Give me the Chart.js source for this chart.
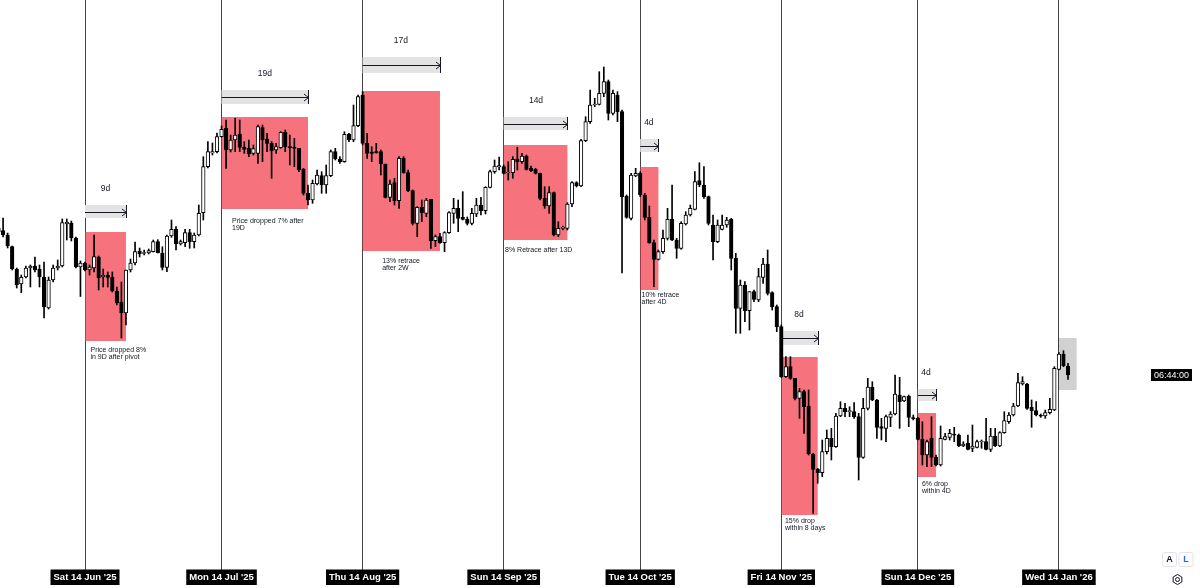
<!DOCTYPE html>
<html>
<head>
<meta charset="utf-8">
<title>Pivot retrace chart</title>
<script src="https://cdn.jsdelivr.net/npm/chart.js@4.4.1/dist/chart.umd.min.js"></script>
<style>
  html, body { margin: 0; padding: 0; background: #fff; }
  #box { width: 1200px; height: 588px; position: relative; }
</style>
</head>
<body>
<div id="box"><canvas id="priceChart"></canvas></div>
<script>

// ==========================
// Daily candles (day 0 = Sat 14 Jun 2025)
// ==========================

const firstDay = -19;

const opens = [
    109200,108930,108500,107330,105100,103600,104300,105200,105400,105100,
    104300,101200,104000,105200,105400,109600,109700,108200,105300,105700,
    105000,105200,106300,104300,104500,104300,102900,101800,100700,105000,
    105700,106900,106650,106700,106830,107830,106700,105270,108400,109070,
    107600,107730,108730,107830,108500,110730,115330,116700,116830,118330,
    119170,117000,118000,118600,117270,117170,116650,116670,119230,118100,
    117670,117000,117230,118770,117330,117300,117170,115100,112670,112000,
    113600,114430,113500,114430,116830,116100,115830,118570,118000,119430,
    122500,117670,116800,116770,116830,115600,112270,113730,111930,116170,
    114730,112930,109670,111270,110670,112070,107930,108330,107730,108730,
    110670,111170,110270,110070,109670,110600,111500,110930,113270,114830,
    115300,115330,114700,114730,116070,115830,116400,115170,115070,114670,
    112170,111400,112730,108500,109170,109170,111600,113730,113400,117930,
    119830,121500,121570,122670,123830,120670,122500,120830,112400,110170,
    114400,114670,112500,110270,107730,106070,106830,108170,110070,108000,
    107170,109600,110500,111070,113930,113500,112330,109500,107830,109070,
    109500,110070,106170,101170,103500,100930,102830,102000,104270,105600,
    102730,101330,99330,94330,95330,94170,92170,92830,91400,86600,
    85070,84730,86830,88170,87330,90400,91170,90830,90830,90330,
    86270,91170,93270,92000,89330,89170,90270,90600,92500,91900,
    92400,90200,90170,88070,86500,88170,86270,85500,88070,88270,
    88500,88500,87400,87670,87170,87270,87800,87830,87070,88400,
    87400,88730,89830,90500,91400,93600,93600,91270,90930,90400,
    90400,90730,91000,95070,96600,95400
];

const highs = [
    109500,110200,108700,107400,105200,104500,105400,105500,106300,105500,
    105800,104300,105500,106000,110100,110100,109900,108300,105900,105800,
    105500,108500,106400,105100,104800,104800,103300,103800,105000,106100,
    107800,107200,107000,107100,108000,108030,107330,108500,110000,109330,
    108000,109070,109070,108700,111500,116330,117830,117700,118700,119400,
    120000,118500,120170,120000,117830,118000,117500,119500,119500,118670,
    117830,117670,118830,119000,118500,118170,117170,115170,113500,114000,
    115000,114830,115500,117000,117170,116330,118830,118670,121500,122500,
    122830,118670,117330,117670,117000,115600,114000,114170,116330,116330,
    115000,113000,111330,112000,112170,112070,108500,108670,108830,110830,
    112170,112000,112830,110300,111170,112170,112270,113330,115000,116000,
    116300,115500,115830,116330,117270,116670,116500,115400,115170,114700,
    113330,113330,112800,109830,109400,111730,113830,113830,118070,120330,
    123000,122170,124830,125300,124000,123000,122830,121000,112500,114670,
    115170,114830,112670,111400,108000,107000,109000,111170,113500,108170,
    109830,110830,111500,114830,115730,115330,112400,110500,110000,110500,
    110270,110170,106670,104000,103830,102830,103000,105170,106170,107000,
    102830,101500,99500,96330,96330,94170,93170,93000,93000,86670,
    85170,88000,89000,89170,90670,91830,91670,91330,91730,90670,
    92170,94170,93830,92070,90170,90500,90830,94500,94270,92400,
    92500,90500,90270,89830,88000,90330,86500,89400,88670,89070,
    89270,88600,87830,88500,89500,88000,88000,90170,89170,89170,
    88830,90830,90730,91670,94670,94330,93670,92000,91830,90600,
    91000,92170,95330,96730,96930,95670
];

const lows = [
    108600,108300,107200,105000,103200,102730,104200,103300,104800,103300,
    100200,101100,103800,105000,105300,108000,107900,105200,102350,104900,
    104500,104800,103000,103300,103300,102800,101500,98200,99500,104800,
    105500,106300,106500,106600,106800,106700,105000,104830,108270,107000,
    107500,107330,107170,107200,108400,110000,115200,116500,116700,118300,
    115170,116800,116830,116830,116670,116330,116500,115670,115830,116830,
    114170,116670,117170,116830,115500,115330,114830,112500,111500,111670,
    113500,112670,112670,114330,116000,115670,115770,117830,117830,119330,
    117500,116170,115830,116670,114500,112200,111830,111500,111170,114670,
    112830,109500,108330,109830,110330,107170,107330,107670,106830,108670,
    109670,108830,110000,109500,109500,110330,110500,110600,113200,114670,
    115000,114600,114000,114170,115000,115670,115000,114830,114600,112000,
    111170,110670,108400,108330,109000,109000,111330,113300,113330,117830,
    119670,121330,121500,122330,120000,120500,119830,104700,110170,110000,
    114330,112330,110000,107670,103330,106000,106670,108000,107930,106170,
    107070,109500,110400,111000,113330,112170,109500,106000,107730,109000,
    109270,105000,98670,98670,99830,99000,101830,101830,103670,102500,
    101000,98830,94250,94270,94070,92000,90170,88670,86500,80670,
    83670,84330,86600,86000,87270,90330,90330,90330,90170,84000,
    86170,91000,91930,88170,88000,87830,89330,90500,89170,91830,
    89330,90000,88000,85500,85330,85330,85400,85400,88000,88000,
    87830,87330,87330,87000,86830,87200,87170,87000,86830,87330,
    87330,88670,89670,90400,91330,93500,91070,89270,90400,90270,
    90170,90600,90930,95000,95330,94070
];

const closes = [
    108800,108500,107400,105100,103500,104270,105200,105400,105000,104300,
    101300,104000,105200,105400,109730,109800,108200,105300,105700,105000,
    105300,106330,104200,104500,104250,102900,101700,100700,105000,105700,
    106830,106600,106700,106930,107830,106730,105270,108400,109070,107600,
    107830,108730,107830,108500,110670,115330,116830,116830,118330,119070,
    117000,118000,118500,117270,117070,116600,117150,119330,118000,117670,
    116900,117330,118770,117330,117230,117170,115000,112670,112000,113670,
    114500,113500,114430,116830,116100,115830,118570,118000,119430,122330,
    117670,116670,116670,116730,115600,112270,113600,111930,116170,114730,
    112930,109670,111270,110730,112000,107930,108330,107730,108730,110730,
    111170,110170,110070,109670,110670,111500,110930,113270,114830,115400,
    115450,114670,114730,116070,115830,116400,115070,114930,114670,112170,
    111400,112730,108500,109170,109200,111600,113730,113400,117930,119830,
    121500,121600,122670,123830,120670,122670,120830,112330,110270,114500,
    114670,112500,110270,107730,106070,106830,108170,110070,108000,107170,
    109670,110500,111170,113830,113500,112330,109670,107830,109500,109500,
    110000,106170,101170,103500,100930,102830,102070,104330,105600,102670,
    101330,99330,94330,95330,94170,92170,92830,91330,86600,85070,
    84730,86830,88170,87330,90400,91170,90830,90850,90330,86270,
    91170,93300,92000,89270,89170,90330,90600,92600,91830,92330,
    90270,90130,88070,86500,87830,86270,85500,88170,88330,88670,
    88480,87400,87600,87070,87400,87830,87830,87070,88400,87400,
    88730,89930,90500,91400,93730,93830,91170,90930,90500,90380,
    90730,91070,95170,96600,95400,94500
];

// date ticks (days after 14 Jun 2025)
const tickDays = [0, 30, 61, 92, 122, 153, 183, 214];

// ==========================
// Drawn annotations (day / price units)
// ==========================

const moves = [
    { from: 0,   to: 9,   top: 108800, bottom: 97900,  barTop: 111500, barBottom: 110200, label: "9d",  labelAt: [4.5, 113100],   note: ["Price dropped 8%", "in 9D after pivot"], noteAt: [1.2, 97000] },
    { from: 30,  to: 49,  top: 120300, bottom: 111100, barTop: 123000, barBottom: 121600, label: "19d", labelAt: [39.5, 124600],  note: ["Price dropped 7% after", "19D"],        noteAt: [32.3, 109900] },
    { from: 61,  to: 78,  top: 122900, bottom: 106900, barTop: 126300, barBottom: 124700, label: "17d", labelAt: [69.4, 127900],  note: ["13% retrace", "after 2W"],              noteAt: [65.3, 105900] },
    { from: 92,  to: 106, top: 117500, bottom: 108000, barTop: 120300, barBottom: 119000, label: "14d", labelAt: [99.1, 121900],  note: ["8% Retrace after 13D"],                 noteAt: [92.3, 107000] },
    { from: 122, to: 126, top: 115300, bottom: 103000, barTop: 118100, barBottom: 116800, label: "4d",  labelAt: [123.9, 119700], note: ["10% retrace", "after 4D"],              noteAt: [122.3, 102500] },
    { from: 153, to: 161, top: 96300,  bottom: 80500,  barTop: 98900,  barBottom: 97500,  label: "8d",  labelAt: [156.9, 100500], note: ["15% drop", "within 8 days"],            noteAt: [153.8, 79900] },
    { from: 183, to: 187, top: 90700,  bottom: 84300,  barTop: 93100,  barBottom: 91900,  label: "4d",  labelAt: [184.8, 94700],  note: ["6% drop", "within 4D"],                 noteAt: [183.9, 83600] }
];

const lastBarBox = { from: 213.9, to: 217.9, top: 98200, bottom: 93000 };

const pxPerDay = 4.551;
const firstTickPx = 85;

// ==========================
// Helpers
// ==========================

const dayNames = ["Sun","Mon","Tue","Wed","Thu","Fri","Sat"];
const monNames = ["Jan","Feb","Mar","Apr","May","Jun","Jul","Aug","Sep","Oct","Nov","Dec"];

function dayLabel(d){
    const t = new Date(Date.UTC(2025, 5, 14) + d * 86400000);
    const yy = String(t.getUTCFullYear()).slice(2);
    return dayNames[t.getUTCDay()] + " " + t.getUTCDate() + " " + monNames[t.getUTCMonth()] + " '" + yy;
}

const days = opens.map((_, i) => firstDay + i);

const wickData = days.map((d, i) => ({ x: d, y: [lows[i], highs[i]] }));
const bodyData = days.map((d, i) => ({ x: d, y: [opens[i], closes[i]] }));
const bodyColors = days.map((_, i) => closes[i] >= opens[i] ? "#ffffff" : "#000000");

// ==========================
// Overlay plugin
// ==========================

const overlay = {

    id: "overlay",

    beforeDatasetsDraw(chart){

        const { ctx, scales: { x, y } } = chart;

        ctx.save();

        // highlight behind the last bars
        const hx1 = x.getPixelForValue(lastBarBox.from);
        const hx2 = x.getPixelForValue(lastBarBox.to);
        const hy1 = y.getPixelForValue(lastBarBox.top);
        const hy2 = y.getPixelForValue(lastBarBox.bottom);
        ctx.fillStyle = "rgba(0,0,0,0.18)";
        ctx.fillRect(hx1, hy1, hx2 - hx1, hy2 - hy1);

        moves.forEach(m => {

            const x1 = x.getPixelForValue(m.from);
            const x2 = x.getPixelForValue(m.to);

            // red retrace box
            const ry1 = y.getPixelForValue(m.top);
            const ry2 = y.getPixelForValue(m.bottom);
            ctx.fillStyle = "rgba(242,54,69,0.7)";
            ctx.fillRect(x1, ry1, x2 - x1, ry2 - ry1);

            // date range bar
            const b1 = y.getPixelForValue(m.barTop);
            const b2 = y.getPixelForValue(m.barBottom);
            ctx.fillStyle = "#e3e3e3";
            ctx.fillRect(x1, b1, x2 - x1, b2 - b1);

            const cy = Math.round((b1 + b2) / 2) + 0.5;
            const xr = Math.round(x2) + 0.5;
            ctx.strokeStyle = "#131722";
            ctx.lineWidth = 1;
            ctx.beginPath();
            ctx.moveTo(x1, cy);
            ctx.lineTo(xr, cy);
            ctx.moveTo(xr - 4.5, cy - 3.5);
            ctx.lineTo(xr, cy);
            ctx.lineTo(xr - 4.5, cy + 3.5);
            ctx.moveTo(xr, b1);
            ctx.lineTo(xr, b2);
            ctx.stroke();

        });

        ctx.restore();

    },

    afterDatasetsDraw(chart){

        const { ctx, scales: { x, y } } = chart;

        ctx.save();
        ctx.fillStyle = "#131722";
        ctx.textBaseline = "middle";

        moves.forEach(m => {

            ctx.font = "8.5px 'Liberation Sans', Arial, sans-serif";
            ctx.textAlign = "center";
            ctx.fillText(m.label, x.getPixelForValue(m.labelAt[0]), y.getPixelForValue(m.labelAt[1]));

            ctx.font = "7px 'Liberation Sans', Arial, sans-serif";
            ctx.textAlign = "left";
            const nx = x.getPixelForValue(m.noteAt[0]);
            const ny = y.getPixelForValue(m.noteAt[1]);
            m.note.forEach((line, k) => ctx.fillText(line, nx, ny + k * 7.3));

        });

        ctx.restore();

    },

    afterDraw(chart){

        const { ctx, scales: { y } } = chart;
        const W = chart.width;
        const H = chart.height;

        ctx.save();

        // countdown badge at last close
        const by = Math.round(y.getPixelForValue(closes[closes.length - 1]));
        ctx.fillStyle = "#000";
        ctx.fillRect(W - 49, by - 6, 41, 12);
        ctx.fillStyle = "#fff";
        ctx.font = "9px 'Liberation Sans', Arial, sans-serif";
        ctx.textAlign = "center";
        ctx.textBaseline = "middle";
        ctx.fillText("06:44:00", W - 28.5, by + 0.5);

        // A / L buttons
        [["A", W - 38, "#131722"], ["L", W - 21.5, "#2962ff"]].forEach(b => {
            ctx.fillStyle = "#fff";
            ctx.strokeStyle = "#e0e3eb";
            ctx.beginPath();
            ctx.roundRect(b[1] + 0.5, H - 36 + 0.5, 14, 14, 2);
            ctx.fill();
            ctx.stroke();
            ctx.fillStyle = b[2];
            ctx.font = "bold 9px 'Liberation Sans', Arial, sans-serif";
            ctx.fillText(b[0], b[1] + 7.5, H - 28.5);
        });

        // settings icon
        const gx = W - 22.5, gy = H - 8.5;
        ctx.strokeStyle = "#131722";
        ctx.lineWidth = 1;
        ctx.beginPath();
        for (let k = 0; k < 6; k++) {
            const a = Math.PI / 6 + k * Math.PI / 3;
            const px = gx + 5 * Math.cos(a);
            const py = gy + 5 * Math.sin(a);
            if (k === 0) ctx.moveTo(px, py); else ctx.lineTo(px, py);
        }
        ctx.closePath();
        ctx.stroke();
        ctx.beginPath();
        ctx.arc(gx, gy, 2, 0, Math.PI * 2);
        ctx.stroke();

        ctx.restore();

    }

};

// ==========================
// Chart
// ==========================

const canvas = document.getElementById("priceChart");

new Chart(canvas, {

    type: "bar",

    data: {

        datasets: [
            {
                label: "Body",
                data: bodyData,
                backgroundColor: bodyColors,
                borderColor: "#000000",
                borderWidth: 1,
                borderSkipped: false,
                barThickness: 3.6,
                minBarLength: 1,
                grouped: false,
                order: 0
            },
            {
                label: "Wick",
                data: wickData,
                backgroundColor: "#000000",
                borderWidth: 0,
                barThickness: 1,
                grouped: false,
                order: 1
            }
        ]

    },

    options: {

        responsive: true,
        maintainAspectRatio: false,
        animation: false,
        devicePixelRatio: 1,

        layout: { padding: 0 },

        plugins: {
            legend: { display: false },
            tooltip: { enabled: false }
        },

        scales: {

            x: {
                type: "linear",
                min: -firstTickPx / pxPerDay,
                max: (1200 - firstTickPx) / pxPerDay,
                offset: false,
                afterBuildTicks: s => { s.ticks = tickDays.map(v => ({ value: v })); },
                afterFit: s => { s.height = 22; },
                border: { display: false },
                grid: {
                    offset: false,
                    color: "#444",
                    lineWidth: 1,
                    drawTicks: true,
                    tickLength: 4
                },
                ticks: {
                    autoSkip: false,
                    maxRotation: 0,
                    padding: 2.5,
                    color: "#ffffff",
                    font: { family: "'Liberation Sans', Arial, sans-serif", size: 9.5, weight: "bold", lineHeight: 1 },
                    showLabelBackdrop: true,
                    backdropColor: "#000000",
                    backdropPadding: { left: 3, right: 3, top: 3, bottom: 3 },
                    callback: v => dayLabel(v)
                }
            },

            y: {
                display: false,
                min: 75400,
                max: 132000
            }

        }

    },

    plugins: [overlay]

});

</script>
</body>
</html>
